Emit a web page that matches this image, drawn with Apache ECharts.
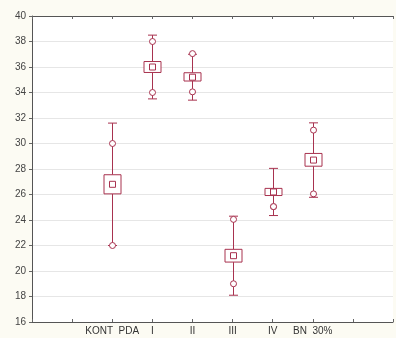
<!DOCTYPE html>
<html>
<head>
<meta charset="utf-8">
<script src="https://cdn.jsdelivr.net/npm/echarts@6/dist/echarts.min.js"></script>
<style>
html,body{margin:0;padding:0;background:#fcfbf3;}
#c{width:396px;height:338px;}
</style>
</head>
<body>
<div id="c"></div>
<script>
// Tick labels for the x positions 0..9
var xTickLabels = ['', '', 'KONT  PDA', 'I', 'II', 'III', 'IV', 'BN  30%', '', ''];
// Groups and their x positions
var categories = ['KONT PDA', 'I', 'II', 'III', 'IV', 'BN 30%'];
var positions = [2, 3, 4, 5, 6, 7];
// Values
var means = [26.8, 36.0, 35.2, 21.2, 26.2, 28.7];
var boxLow = [26.05, 35.57, 34.9, 20.7, 25.92, 28.22];
var boxHigh = [27.55, 36.43, 35.55, 21.7, 26.48, 29.22];
var whiskerLow = [22.0, 33.5, 33.4, 18.1, 24.35, 25.78];
var whiskerHigh = [31.6, 38.5, 37.0, 24.3, 28.05, 31.62];
var pointLow = [22.0, 34.0, 34.05, 19.0, 25.05, 26.05];
var pointHigh = [30.0, 38.0, 37.05, 24.05, 25.05, 31.05];
var yTicks = [16, 18, 20, 22, 24, 26, 28, 30, 32, 34, 36, 38, 40];

var color = '#a8324f';
var data = positions.map(function (p, i) {
  return [p, means[i], boxLow[i], boxHigh[i], whiskerLow[i], whiskerHigh[i], pointLow[i], pointHigh[i]];
});

function renderItem(params, api) {
  var x = api.value(0);
  var c = api.coord([x, api.value(1)]);
  var bl = api.coord([x, api.value(2)]);
  var bh = api.coord([x, api.value(3)]);
  var wl = api.coord([x, api.value(4)]);
  var wh = api.coord([x, api.value(5)]);
  var pl = api.coord([x, api.value(6)]);
  var ph = api.coord([x, api.value(7)]);
  var bw = 17, cw = 9, ms = 6, r = 3;
  var st = {stroke: color, lineWidth: 1, fill: null};
  var stFill = {stroke: color, lineWidth: 1, fill: '#ffffff'};
  var cx = Math.round(c[0]) + 0.5;
  var children = [
    {type: 'line', shape: {x1: cx, y1: wh[1], x2: cx, y2: bh[1]}, style: st},
    {type: 'line', shape: {x1: cx, y1: bl[1], x2: cx, y2: wl[1]}, style: st},
    {type: 'line', shape: {x1: cx - cw / 2, y1: wh[1], x2: cx + cw / 2, y2: wh[1]}, style: st},
    {type: 'line', shape: {x1: cx - cw / 2, y1: wl[1], x2: cx + cw / 2, y2: wl[1]}, style: st},
    {type: 'rect', shape: {x: cx - bw / 2, y: bh[1], width: bw, height: bl[1] - bh[1]}, style: stFill},
    {type: 'rect', shape: {x: cx - ms / 2, y: c[1] - ms / 2, width: ms, height: ms}, style: st},
    {type: 'circle', shape: {cx: cx, cy: ph[1], r: r}, style: stFill},
    {type: 'circle', shape: {cx: cx, cy: pl[1], r: r}, style: stFill}
  ];
  return {type: 'group', children: children};
}

var chart = echarts.init(document.getElementById('c'), null, {renderer: 'canvas'});
chart.setOption({
  backgroundColor: '#fcfbf3',
  animation: false,
  grid: {left: 32, top: 16, width: 373, height: 306, show: true, backgroundColor: '#ffffff', borderWidth: 0},
  xAxis: [{
    type: 'value', min: 0, max: 9, interval: 1,
    axisLine: {show: true, lineStyle: {color: '#555', width: 1}},
    axisTick: {show: true, inside: true, length: 3, lineStyle: {color: '#666'}},
    splitLine: {show: false},
    axisLabel: {
      color: '#333', fontSize: 10, fontFamily: 'Liberation Sans, Arial', margin: 4,
      formatter: function (v) { return xTickLabels[Math.round(v)] || ''; }
    }
  }, {
    type: 'value', position: 'top', min: 0, max: 9, interval: 1,
    axisLine: {show: true, onZero: false, lineStyle: {color: '#555', width: 1}},
    axisTick: {show: true, inside: true, length: 3, lineStyle: {color: '#666'}},
    axisLabel: {show: false}, splitLine: {show: false}
  }],
  yAxis: {
    type: 'value', min: yTicks[0], max: yTicks[yTicks.length - 1], interval: 2,
    axisLine: {show: true, lineStyle: {color: '#555', width: 1}},
    axisTick: {show: true, length: 3, lineStyle: {color: '#666'}},
    splitLine: {show: true, lineStyle: {color: '#e6e6e6', width: 1}},
    axisLabel: {color: '#444', fontSize: 10, fontFamily: 'Liberation Sans, Arial', margin: 6}
  },
  series: [{
    type: 'custom',
    renderItem: renderItem,
    data: data,
    encode: {x: 0, y: [1, 2, 3, 4, 5, 6, 7]},
    clip: false
  }]
});
</script>
</body>
</html>
